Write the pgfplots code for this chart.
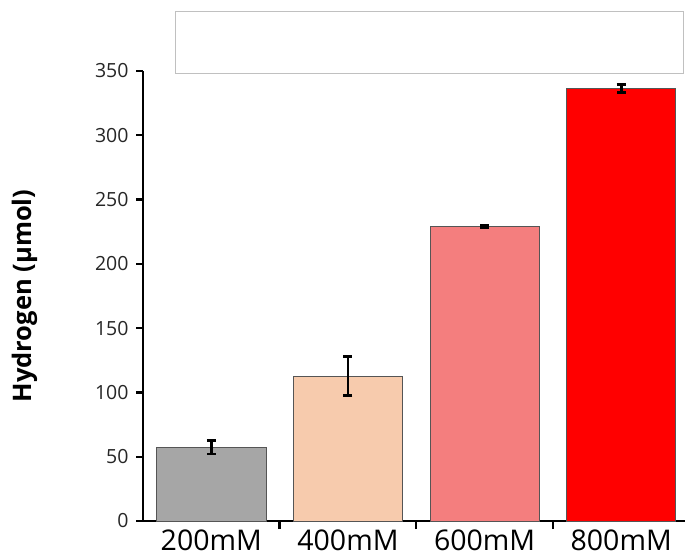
\documentclass[border=0pt]{standalone}
\usepackage{pgfplots}
\pgfplotsset{compat=1.18}
\usepackage{fontspec}
\setmainfont{Open Sans}
\definecolor{cgray}{HTML}{A6A6A6}
\definecolor{cpeach}{HTML}{F7CBAD}
\definecolor{csalmon}{HTML}{F47E7E}
\definecolor{cred}{HTML}{FF0000}
\definecolor{cedge}{HTML}{555555}
\definecolor{ctick}{HTML}{262626}
\definecolor{cbox}{HTML}{C0C0C0}
\begin{document}
\begin{tikzpicture}
\begin{axis}[
  at={(143pt,37pt)}, anchor=south west,
  scale only axis, width=546.5pt, height=450pt,
  xmin=-0.5, xmax=3.5, ymin=0, ymax=350,
  axis x line*=bottom, axis y line*=left,
  axis line style={line width=2.6pt, black, -},
  tick align=inside,
  ytick={0,50,...,350},
  major tick length=7pt,
  minor tick length=8pt,
  major y tick style={line width=2.4pt, black, xshift=-7pt},
  xtick={0,1,2,3},
  xticklabels={200mM,400mM,600mM,800mM},
  major x tick style={draw=none},
  minor xtick={0.5,1.5,2.5},
  minor x tick style={line width=2.4pt, black},
  /pgf/number format/assume math mode=true,
  yticklabel style={font=\fontsize{19.5}{22}\selectfont, text=ctick, xshift=-11pt},
  xticklabel style={font=\fontsize{28.5}{34}\selectfont, text=black, yshift=1.5pt},
  ylabel={\textbf{Hydrogen (μmol)}},
  ylabel style={font=\fontsize{25.5}{30}\selectfont, at={(axis description cs:-0.216,0.5)}, anchor=center},
  ybar, bar width=0.8,
  error bars/y dir=both, error bars/y explicit,
  error bars/error bar style={line width=2.7pt, black},
  error bars/error mark options={rotate=90, mark size=4.5pt, line width=2.7pt, black},
]
\addplot[fill=cgray, draw=cedge, line width=0.8pt, bar shift=0pt] coordinates {(0,57.5) +- (0,5.3)};
\addplot[fill=cpeach, draw=cedge, line width=0.8pt, bar shift=0pt] coordinates {(1,112.7) +- (0,15.2)};
\addplot[fill=csalmon, draw=cedge, line width=0.8pt, bar shift=0pt] coordinates {(2,229.2) +- (0,1.0)};
\addplot[fill=cred, draw=cedge, line width=0.8pt, bar shift=0pt] coordinates {(3,336.5) +- (0,3.0)};
\end{axis}
\draw[cbox, line width=1pt] (175pt,484pt) rectangle (683pt,546pt);
\pgfresetboundingbox
\path[use as bounding box] (0,0) rectangle (685pt,558pt);
\end{tikzpicture}
\end{document}
